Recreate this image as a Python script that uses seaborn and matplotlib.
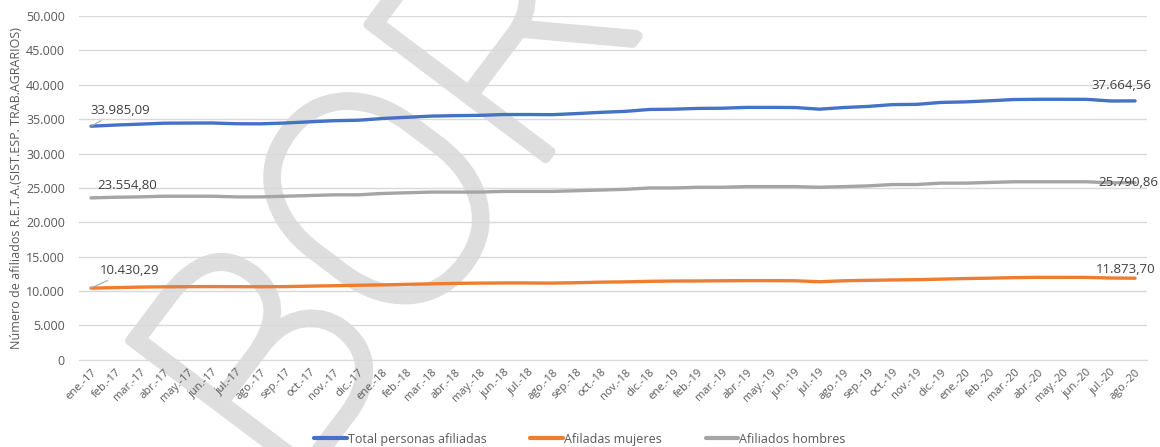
import numpy as np
import pandas as pd
import matplotlib
matplotlib.use("Agg")
import matplotlib.pyplot as plt
import matplotlib.patheffects as pe
import seaborn as sns
from matplotlib.ticker import FuncFormatter, FixedLocator

months = ["ene.-17", "feb.-17", "mar.-17", "abr.-17", "may.-17", "jun.-17", "jul.-17", "ago.-17",
          "sep.-17", "oct.-17", "nov.-17", "dic.-17", "ene.-18", "feb.-18", "mar.-18", "abr.-18",
          "may.-18", "jun.-18", "jul.-18", "ago.-18", "sep.-18", "oct.-18", "nov.-18", "dic.-18",
          "ene.-19", "feb.-19", "mar.-19", "abr.-19", "may.-19", "jun.-19", "jul.-19", "ago.-19",
          "sep.-19", "oct.-19", "nov.-19", "dic.-19", "ene.-20", "feb.-20", "mar.-20", "abr.-20",
          "may.-20", "jun.-20", "jul.-20", "ago.-20"]

total = [33985.09, 34150, 34280, 34420, 34440, 34450, 34340, 34330, 34450, 34620, 34780, 34850,
         35100, 35280, 35450, 35520, 35560, 35680, 35680, 35660, 35820, 36000, 36140, 36420,
         36460, 36570, 36600, 36720, 36720, 36700, 36460, 36700, 36860, 37120, 37160, 37440,
         37520, 37680, 37860, 37900, 37900, 37890, 37650, 37664.56]

mujeres = [10430.29, 10500, 10580, 10620, 10640, 10650, 10640, 10630, 10650, 10720, 10780, 10850,
           10900, 10980, 11050, 11120, 11160, 11180, 11180, 11160, 11220, 11300, 11340, 11420,
           11460, 11470, 11500, 11520, 11520, 11500, 11360, 11500, 11560, 11620, 11660, 11740,
           11820, 11880, 11960, 12000, 12000, 11990, 11900, 11873.70]

hombres = [23554.80, 23650, 23700, 23800, 23800, 23800, 23700, 23700, 23800, 23900, 24000, 24000,
           24200, 24300, 24400, 24400, 24400, 24500, 24500, 24500, 24600, 24700, 24800, 25000,
           25000, 25100, 25100, 25200, 25200, 25200, 25100, 25200, 25300, 25500, 25500, 25700,
           25700, 25800, 25900, 25900, 25900, 25900, 25750, 25790.86]

series_names = ["Total personas afiliadas", "Afiladas mujeres", "Afiliados hombres"]
colors = ["#4472C4", "#ED7D31", "#A5A5A5"]
start_labels = ["33.985,09", "10.430,29", "23.554,80"]
end_labels = ["37.664,56", "11.873,70", "25.790,86"]

sns.set_style("white")
plt.rcParams["font.family"] = ["Open Sans", "DejaVu Sans"]

n = len(months)
df = pd.DataFrame({
    "idx": list(range(n)) * 3,
    "valor": total + mujeres + hombres,
    "serie": [series_names[0]] * n + [series_names[1]] * n + [series_names[2]] * n,
})

fig = plt.figure(figsize=(11.6, 4.47), dpi=100)
ax = fig.add_axes([0.068, 0.195, 0.921, 0.769])
ax.set_zorder(2)
ax.patch.set_visible(False)

# watermark (behind the plot)
wm_color = "#dedede"
fig.text(0.19, 0.0, "BORRADOR", fontsize=225, color=wm_color, rotation=53,
         rotation_mode="anchor", ha="left", va="center", zorder=0.5,
         fontfamily=["Roboto", "DejaVu Sans"], fontweight="light",
         path_effects=[pe.withStroke(linewidth=7, foreground=wm_color, joinstyle="round",
                                     capstyle="round")])

sns.lineplot(data=df, x="idx", y="valor", hue="serie", palette=dict(zip(series_names, colors)),
             hue_order=series_names, linewidth=2.4, ax=ax, legend=False, zorder=3)

ax.set_xlim(-0.5, n - 0.5)
ax.set_ylim(0, 50000)
ax.yaxis.set_major_locator(FixedLocator(np.arange(0, 50001, 5000)))
ax.yaxis.set_major_formatter(FuncFormatter(lambda v, p: f"{int(v):,}".replace(",", ".")))
ax.grid(axis="y", color="#d9d9d9", linewidth=1)
ax.set_axisbelow(True)

ax.set_xticks(range(n))
ax.set_xticklabels(months, rotation=45, ha="right", rotation_mode="anchor",
                   fontsize=8, color="#595959")
ax.set_xticks(np.arange(-0.5, n, 1), minor=True)
ax.tick_params(axis="x", which="major", length=0, pad=5)
ax.tick_params(axis="x", which="minor", length=5, color="#d9d9d9", width=1)
ax.tick_params(axis="y", length=0, labelsize=9, labelcolor="#595959", pad=10)

for s in ["top", "right", "left"]:
    ax.spines[s].set_visible(False)
ax.spines["bottom"].set_color("#d9d9d9")
ax.set_xlabel("")
ax.set_ylabel("Número de afiliados R.E.T.A.(SIST.ESP. TRAB.AGRARIOS)", fontsize=9,
              color="#595959", labelpad=2)

# data labels
vals = [total, mujeres, hombres]
start_off = [(21, 11.5), (28, 13), (26, 8.6)]
end_off = [(-10, 11), (-7, 6), (-5, 0)]
for v, sl, el, so, eo in zip(vals, start_labels, end_labels, start_off, end_off):
    ax.annotate(sl, xy=(0, v[0]), xytext=so, textcoords="offset points", ha="center",
                va="center", fontsize=9.5, color="#404040", zorder=4,
                arrowprops=dict(arrowstyle="-", color="#a6a6a6", lw=0.8, shrinkA=1, shrinkB=0))
    ax.annotate(el, xy=(n - 1, v[-1]), xytext=eo, textcoords="offset points", ha="center",
                va="center", fontsize=9.5, color="#404040", zorder=4, annotation_clip=False)

handles = [plt.Line2D([], [], color=c, lw=3) for c in colors]
fig.legend(handles, series_names, loc="lower center", bbox_to_anchor=(0.5, -0.022), ncol=3,
           frameon=False, fontsize=9, handlelength=2.6, handletextpad=0.1, columnspacing=3.5,
           labelcolor="#595959")

fig.savefig("out.png", dpi=100)
